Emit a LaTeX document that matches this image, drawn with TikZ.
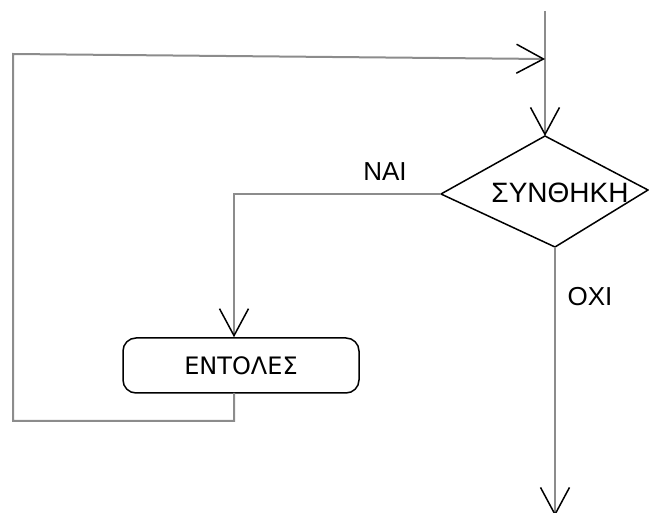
\documentclass[tikz,border=0pt]{standalone}
\usepackage{fontspec}
\setmainfont{Liberation Sans}
\newfontfamily\boxfont{DejaVu Sans}
\usetikzlibrary{arrows.meta}
\tikzset{
  conn/.style={draw=gray!90, line width=2pt},
  vtip/.tip={Straight Barb[length=27pt,width=29pt,color=black,line width=1.5pt]},
  lbl/.style={inner sep=0pt, font=\fontsize{26}{30}\selectfont},
  outline/.style={draw=black, line width=1.5pt},
}
\begin{document}
\begin{tikzpicture}[x=1pt,y=-1pt]
\useasboundingbox (0,0) rectangle (649,513);
\clip (0,0) rectangle (649,513);
% diamond vertices
\coordinate (dt) at (545,136);
\coordinate (dr) at (648,190);
\coordinate (db) at (555,247);
\coordinate (dl) at (441,194);
\draw[outline, fill=white, line join=miter] (dt) -- (dr) -- (db) -- (dl) -- cycle;
\node[inner sep=0pt, font=\fontsize{28}{32}\selectfont] (cond) at (560,193) {ΣΥΝΘΗΚΗ};
% box
\node[outline, rounded corners=13pt, minimum width=236pt, minimum height=55pt,
      font=\boxfont\fontsize{24}{28}\selectfont] (box) at (241,365.5) {ΕΝΤΟΛΕΣ};
% connector points
\coordinate (ntop) at (545,11);
\coordinate (join) at (545,59);
\coordinate (nai) at (234,194);
\coordinate (lb) at (234,421);
\coordinate (ll) at (13,421);
\coordinate (lt) at (13,54);
\coordinate (fin) at (555,516);
% connectors
\draw[conn, -vtip] (ntop) -- (dt);
\draw[conn, -vtip] (lb -| nai) ++(0,-28) -- (lb) -- (ll) -- (lt) -- (join);
\draw[conn, -vtip] (dl) -- (nai) -- (nai |- box.north);
\draw[conn, -vtip] (db) -- (fin);
% labels
\node[lbl] (yes) at (385,172) {ΝΑΙ};
\node[lbl] (no) at (590,297) {ΟΧΙ};
\end{tikzpicture}
\end{document}
